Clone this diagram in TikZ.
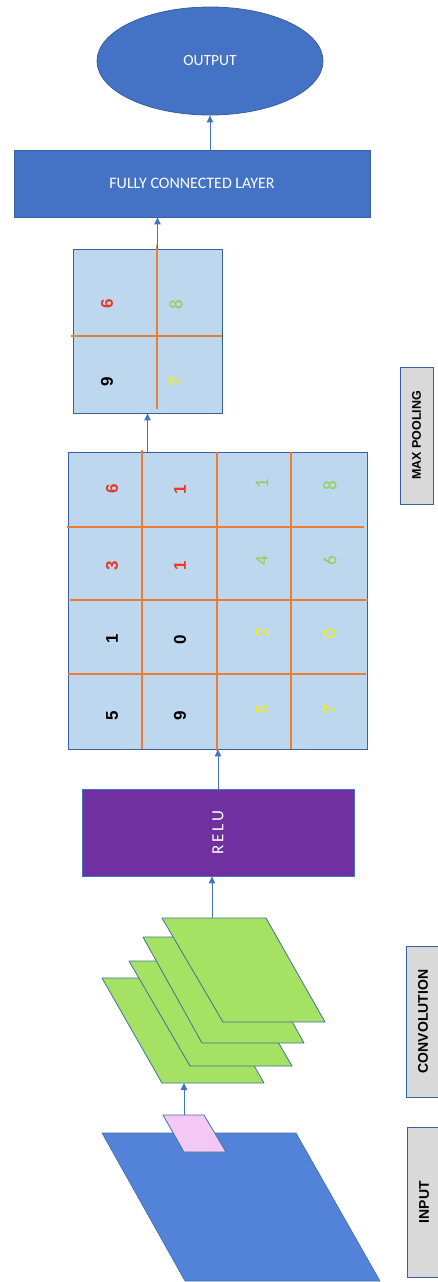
\documentclass[tikz,border=0pt]{standalone}
\usepackage{fontspec}
\setmainfont{Carlito}
\newfontfamily\arialf{Liberation Sans}
\usetikzlibrary{shapes.geometric,arrows.meta}
\definecolor{mblue}{HTML}{4472C4}
\definecolor{inblue}{HTML}{5383D8}
\definecolor{edgeblue}{HTML}{3A5F9E}
\definecolor{cellblue}{HTML}{BDD7EE}
\definecolor{gridorange}{HTML}{ED7D31}
\definecolor{relupurple}{HTML}{7030A0}
\definecolor{convgreen}{HTML}{A5E263}
\definecolor{convedge}{HTML}{41719C}
\definecolor{pinkf}{HTML}{F4C8F4}
\definecolor{labgray}{HTML}{D9D9D9}
\definecolor{dred}{HTML}{E8382C}
\definecolor{dgreen}{HTML}{8FD14F}
\definecolor{dyellow}{HTML}{F2F200}
\tikzset{
  arr/.style={draw=mblue, line width=1pt, -{Triangle[length=7pt,width=6.5pt]}},
  labelbox/.style={draw=edgeblue, fill=labgray, line width=0.8pt, rotate=90, inner sep=0, text=black},
  bdig/.style={rotate=90, inner sep=0, font=\arialf\bfseries\fontsize{17}{17}\selectfont},
  ldig/.style={rotate=90, inner sep=0, font=\fontsize{19}{19}\selectfont},
  cellline/.style={draw=gridorange, line width=1.6pt},
  layer/.style={draw=convedge, fill=convgreen, line width=0.8pt, line join=round},
  whitetext/.style={text=white, inner sep=0}
}
\begin{document}
\begin{tikzpicture}[x=1pt,y=-1pt]
\useasboundingbox (0,0) rectangle (438,1282);

% OUTPUT
\node[ellipse, draw=edgeblue, fill=mblue, line width=0.8pt, minimum width=226pt, minimum height=108pt, inner sep=0,
      text=white, font=\fontsize{15.5}{15.5}\selectfont] (out) at (210,61) {OUTPUT};

% FULLY CONNECTED
\node[rectangle, draw=edgeblue, fill=mblue, line width=0.8pt, minimum width=356pt, minimum height=67pt, inner sep=0,
      text=white, font=\fontsize{16}{16}\selectfont] (fc) at (192,183.5) {FULLY CONNECTED LAYER};

% POOLED 2x2
\node[rectangle, draw=edgeblue, fill=cellblue, line width=0.9pt, minimum width=149pt, minimum height=164pt, inner sep=0] (pool) at (147.5,331) {};
\coordinate (pv1) at (157,245); \coordinate (pv2) at (157,409);
\coordinate (ph1) at (71,336);  \coordinate (ph2) at (222,336);
\draw[cellline] (pv1) -- (pv2);
\draw[cellline] (ph1) -- (ph2);
\node[bdig, text=dred]     (p11) at (107,304) {6};
\node[ldig, text=dgreen]   (p12) at (176,305) {8};
\node[bdig, text=black]    (p21) at (107,382) {9};
\node[ldig, text=dyellow]  (p22) at (176,382) {7};

% GRID 4x4
\node[rectangle, draw=edgeblue, fill=cellblue, line width=0.9pt, minimum width=299pt, minimum height=297pt, inner sep=0] (grid) at (217.5,600.5) {};
\coordinate (gv1a) at (142,450); \coordinate (gv1b) at (142,749);
\coordinate (gv2a) at (217,452); \coordinate (gv2b) at (217,751);
\coordinate (gv3a) at (291,452); \coordinate (gv3b) at (291,749);
\coordinate (gh1a) at (67,527);  \coordinate (gh1b) at (364,527);
\coordinate (gh2a) at (70,600);  \coordinate (gh2b) at (368,600);
\coordinate (gh3a) at (68,674);  \coordinate (gh3b) at (366,674);
\draw[cellline] (gv1a) -- (gv1b);
\draw[cellline] (gv2a) -- (gv2b);
\draw[cellline] (gv3a) -- (gv3b);
\draw[cellline] (gh1a) -- (gh1b);
\draw[cellline] (gh2a) -- (gh2b);
\draw[cellline] (gh3a) -- (gh3b);
% column 1
\node[bdig, text=dred]  (g11) at (112,489) {6};
\node[bdig, text=dred]  (g12) at (112,566) {3};
\node[bdig, text=black] (g13) at (112,639) {1};
\node[bdig, text=black] (g14) at (112,716) {5};
% column 2
\node[bdig, text=dred]  (g21) at (180,490) {1};
\node[bdig, text=dred]  (g22) at (180,566) {1};
\node[bdig, text=black] (g23) at (180,640) {0};
\node[bdig, text=black] (g24) at (180,716) {9};
% column 3
\node[ldig, text=dgreen]  (g31) at (262,484) {1};
\node[ldig, text=dgreen]  (g32) at (262,561) {4};
\node[ldig, text=dyellow] (g33) at (262,633) {2};
\node[ldig, text=dyellow] (g34) at (262,710) {5};
% column 4
\node[ldig, text=dgreen]  (g41) at (330,486) {8};
\node[ldig, text=dgreen]  (g42) at (330,561) {6};
\node[ldig, text=dyellow] (g43) at (330,634) {0};
\node[ldig, text=dyellow] (g44) at (330,710) {7};

% RELU
\node[rectangle, draw=mblue, fill=relupurple, line width=0.8pt, minimum width=272pt, minimum height=87pt, inner sep=0] (relu) at (218,832.5) {};
\node[whitetext, rotate=90, font=\fontsize{17}{17}\selectfont] (relut) at (relu.center) {R\,E\,L\,U};

% CONVOLUTION LAYERS
\draw[layer] (102,978) -- (204,978) -- (264,1083) -- (162,1083) -- cycle;
\draw[layer] (129,961) -- (231,961) -- (292,1066) -- (190,1066) -- cycle;
\draw[layer] (143,937) -- (245,937) -- (304,1043) -- (202,1043) -- cycle;
\draw[layer] (162,918) -- (266,918) -- (325,1022) -- (223,1022) -- cycle;
\coordinate (convtop) at (212,918);
\coordinate (convbot) at (184,1083);

% INPUT
\draw[draw=convedge, fill=inblue, line width=0.6pt] (102,1133) -- (296,1133) -- (380,1281) -- (185,1281) -- cycle;
\draw[draw=convedge, fill=pinkf, line width=0.8pt] (163,1115) -- (204,1115) -- (226,1152) -- (184,1152) -- cycle;
\coordinate (pinktop) at (184,1115);

% ARROWS
\draw[arr] (pinktop) -- (convbot);
\draw[arr] (convtop) -- (convtop |- relu.south);
\draw[arr] (relu.north) -- (relu.north |- grid.south);
\draw[arr] (grid.north -| pool.south) -- (pool.south);
\draw[arr] ([xshift=10pt]pool.north) -- ([xshift=10pt]pool.north |- fc.south);
\draw[arr] (fc.north -| out.south) -- (out.south);

% SIDE LABELS
\node[labelbox, minimum width=137pt, minimum height=33pt, font=\arialf\bfseries\fontsize{12.5}{12.5}\selectfont] (lmax) at (416.5,435.5) {MAX POOLING};
\node[labelbox, minimum width=151pt, minimum height=34pt, font=\arialf\bfseries\fontsize{14}{14}\selectfont] (lconv) at (423,1021.5) {CONVOLUTION};
\node[labelbox, minimum width=150pt, minimum height=34pt, font=\arialf\bfseries\fontsize{14}{14}\selectfont] (lin) at (424,1202) {INPUT};
\end{tikzpicture}
\end{document}
